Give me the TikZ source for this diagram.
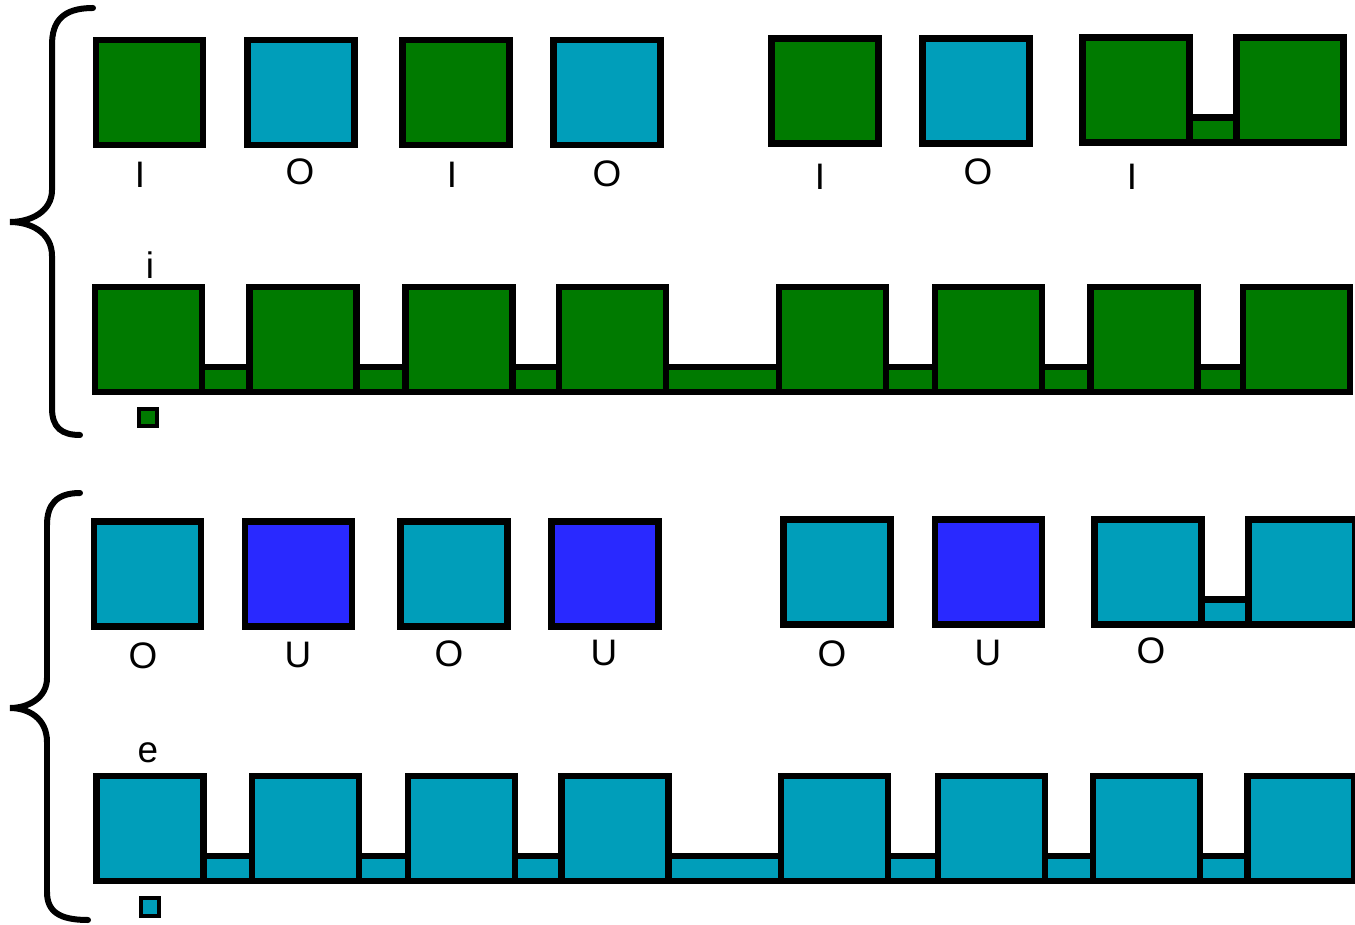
\documentclass[tikz,border=0pt]{standalone}
\usepackage{fontspec}
\setmainfont{Liberation Sans}
\definecolor{grn}{RGB}{0,122,0}
\definecolor{cyn}{RGB}{0,158,186}
\definecolor{blu}{RGB}{41,41,255}
\begin{document}
\begin{tikzpicture}[
  x=0.02cm, y=-0.02cm,
  cell/.style={rectangle, draw=black, line width=0.13cm, outer sep=0pt, inner sep=0pt, minimum width=2.14cm, minimum height=2.1cm},
  bridge/.style={draw=black, line width=0.13cm},
  swatch/.style={rectangle, draw=black, line width=0.08cm, outer sep=0pt, inner sep=0pt, minimum size=0.36cm},
  lbl/.style={inner sep=0pt, font=\fontsize{21}{24}\selectfont},
  brace/.style={draw=black, line width=0.12cm, line cap=round}
]
  \useasboundingbox (0,0) rectangle (1355,925);

  % Braces on the left
  \draw[brace] (93,8) .. controls (62,8) and (52,22) .. (52,45) -- (52,190)
    .. controls (52,212) and (30,222) .. (10,222)
    .. controls (30,222) and (52,232) .. (52,256) -- (52,408)
    .. controls (52,428) and (62,435) .. (80,435);
  \draw[brace] (80,493) .. controls (56,493) and (47,505) .. (47,525) -- (47,678)
    .. controls (47,698) and (28,708) .. (10,708)
    .. controls (28,708) and (47,718) .. (47,742) -- (47,892)
    .. controls (47,912) and (60,920) .. (88,920);

  % Row 1: I O I O  I O I
  \node[cell, fill=grn] (a1) at (149.5,92.5) {};
  \node[cell, fill=cyn] (a2) at (301,92.5) {};
  \node[cell, fill=grn] (a3) at (456,92.5) {};
  \node[cell, fill=cyn] (a4) at (607,92.5) {};
  \node[cell, fill=grn] (a5) at (825,91) {};
  \node[cell, fill=cyn] (a6) at (976,91) {};
  \node[cell, fill=grn] (a7) at (1136,90) {};
  \node[cell, fill=grn] (a8) at (1290,90) {};
  \draw[bridge, fill=grn] (a7.south east) rectangle ([yshift=0.5cm]a8.south west);

  \node[lbl] (la1) at (140,175) {I};
  \node[lbl] (la2) at (300,172) {O};
  \node[lbl] (la3) at (452,175) {I};
  \node[lbl] (la4) at (607,174) {O};
  \node[lbl] (la5) at (820,177) {I};
  \node[lbl] (la6) at (978,172) {O};
  \node[lbl] (la7) at (1132,177) {I};

  % Row 2: i chain
  \node[lbl] (lb) at (150,265) {i};
  \node[cell, fill=grn] (b1) at (148.5,339.5) {};
  \node[cell, fill=grn] (b2) at (303,339.5) {};
  \node[cell, fill=grn] (b3) at (459,339.5) {};
  \node[cell, fill=grn] (b4) at (612.5,339.5) {};
  \node[cell, fill=grn] (b5) at (832.5,339.5) {};
  \node[cell, fill=grn] (b6) at (988.5,339.5) {};
  \node[cell, fill=grn] (b7) at (1144,339.5) {};
  \node[cell, fill=grn] (b8) at (1296.5,339.5) {};
  \draw[bridge, fill=grn] (b1.south east) rectangle ([yshift=0.5cm]b2.south west);
  \draw[bridge, fill=grn] (b2.south east) rectangle ([yshift=0.5cm]b3.south west);
  \draw[bridge, fill=grn] (b3.south east) rectangle ([yshift=0.5cm]b4.south west);
  \draw[bridge, fill=grn] (b4.south east) rectangle ([yshift=0.5cm]b5.south west);
  \draw[bridge, fill=grn] (b5.south east) rectangle ([yshift=0.5cm]b6.south west);
  \draw[bridge, fill=grn] (b6.south east) rectangle ([yshift=0.5cm]b7.south west);
  \draw[bridge, fill=grn] (b7.south east) rectangle ([yshift=0.5cm]b8.south west);
  \node[swatch, fill=grn] (sb) at (147.5,417.5) {};

  % Row 3: O U O U  O U O
  \node[cell, fill=cyn] (c1) at (147.5,574) {};
  \node[cell, fill=blu] (c2) at (298.5,574) {};
  \node[cell, fill=cyn] (c3) at (454,574) {};
  \node[cell, fill=blu] (c4) at (605,574) {};
  \node[cell, fill=cyn] (c5) at (837,572) {};
  \node[cell, fill=blu] (c6) at (988.5,572) {};
  \node[cell, fill=cyn] (c7) at (1148,572) {};
  \node[cell, fill=cyn] (c8) at (1302,572) {};
  \draw[bridge, fill=cyn] (c7.south east) rectangle ([yshift=0.5cm]c8.south west);

  \node[lbl] (lc1) at (143,656) {O};
  \node[lbl] (lc2) at (298,655) {U};
  \node[lbl] (lc3) at (449,654) {O};
  \node[lbl] (lc4) at (604,653) {U};
  \node[lbl] (lc5) at (832,654) {O};
  \node[lbl] (lc6) at (988,653) {U};
  \node[lbl] (lc7) at (1151,651) {O};

  % Row 4: e chain
  \node[lbl] (ld) at (148,753) {e};
  \node[cell, fill=cyn] (d1) at (150,828.5) {};
  \node[cell, fill=cyn] (d2) at (305.5,828.5) {};
  \node[cell, fill=cyn] (d3) at (461.5,828.5) {};
  \node[cell, fill=cyn] (d4) at (615,828.5) {};
  \node[cell, fill=cyn] (d5) at (834.5,828.5) {};
  \node[cell, fill=cyn] (d6) at (991.5,828.5) {};
  \node[cell, fill=cyn] (d7) at (1146.5,828.5) {};
  \node[cell, fill=cyn] (d8) at (1301,828.5) {};
  \draw[bridge, fill=cyn] (d1.south east) rectangle ([yshift=0.5cm]d2.south west);
  \draw[bridge, fill=cyn] (d2.south east) rectangle ([yshift=0.5cm]d3.south west);
  \draw[bridge, fill=cyn] (d3.south east) rectangle ([yshift=0.5cm]d4.south west);
  \draw[bridge, fill=cyn] (d4.south east) rectangle ([yshift=0.5cm]d5.south west);
  \draw[bridge, fill=cyn] (d5.south east) rectangle ([yshift=0.5cm]d6.south west);
  \draw[bridge, fill=cyn] (d6.south east) rectangle ([yshift=0.5cm]d7.south west);
  \draw[bridge, fill=cyn] (d7.south east) rectangle ([yshift=0.5cm]d8.south west);
  \node[swatch, fill=cyn] (sd) at (150,906.5) {};
\end{tikzpicture}
\end{document}
